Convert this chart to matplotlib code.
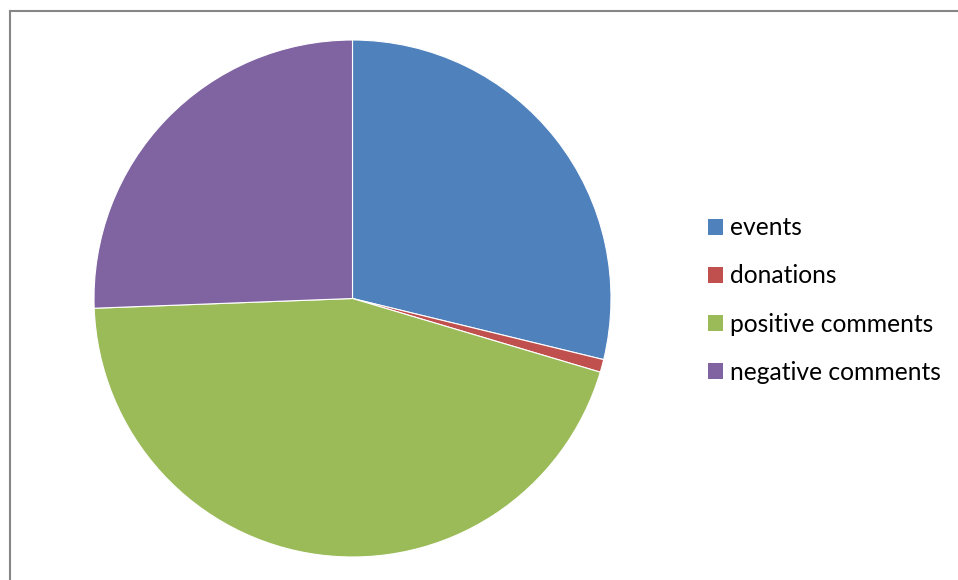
import matplotlib
matplotlib.use("Agg")
import matplotlib.pyplot as plt
from matplotlib.lines import Line2D

categories = ["events", "donations", "positive comments", "negative comments"]
counts = [36, 1, 56, 32]
colors = ["#4F81BD", "#C0504D", "#9BBB59", "#8064A2"]

W, H = 958, 580
fig = plt.figure(figsize=(W / 100, H / 100), dpi=100)
fig.patch.set_facecolor("white")

# pie axes: centre (352.5, 298.5) px from top-left, radius 258.5 px
cx, cy, r = 352.5, 298.5, 258.5
ax = fig.add_axes([(cx - r) / W, (H - cy - r) / H, 2 * r / W, 2 * r / H])
wedges, _ = ax.pie(counts, colors=colors, startangle=90, counterclock=False,
                   radius=1.0, wedgeprops=dict(edgecolor="white", linewidth=0.8))
ax.set_xlim(-1, 1)
ax.set_ylim(-1, 1)
ax.set_aspect("equal")
ax.axis("off")

# legend on the right
leg = fig.legend(wedges, categories, loc="center left",
                 bbox_to_anchor=(708 / W, 1 - 300 / H),
                 frameon=False, prop={"family": "Lato", "size": 17.7},
                 handlelength=0.62, handleheight=0.62, handletextpad=0.28,
                 labelspacing=1.02, borderpad=0, borderaxespad=0)
for h in leg.legend_handles:
    h.set_edgecolor("none")

# chart-area border (top and left edges)
x0, y0 = 9.5 / W, 1 - 10.5 / H
fig.add_artist(Line2D([x0, 1], [y0, y0], transform=fig.transFigure,
                      color="#868686", linewidth=1.5))
fig.add_artist(Line2D([x0, x0], [y0, 0], transform=fig.transFigure,
                      color="#868686", linewidth=1.5))

fig.savefig("out.png", dpi=100)
